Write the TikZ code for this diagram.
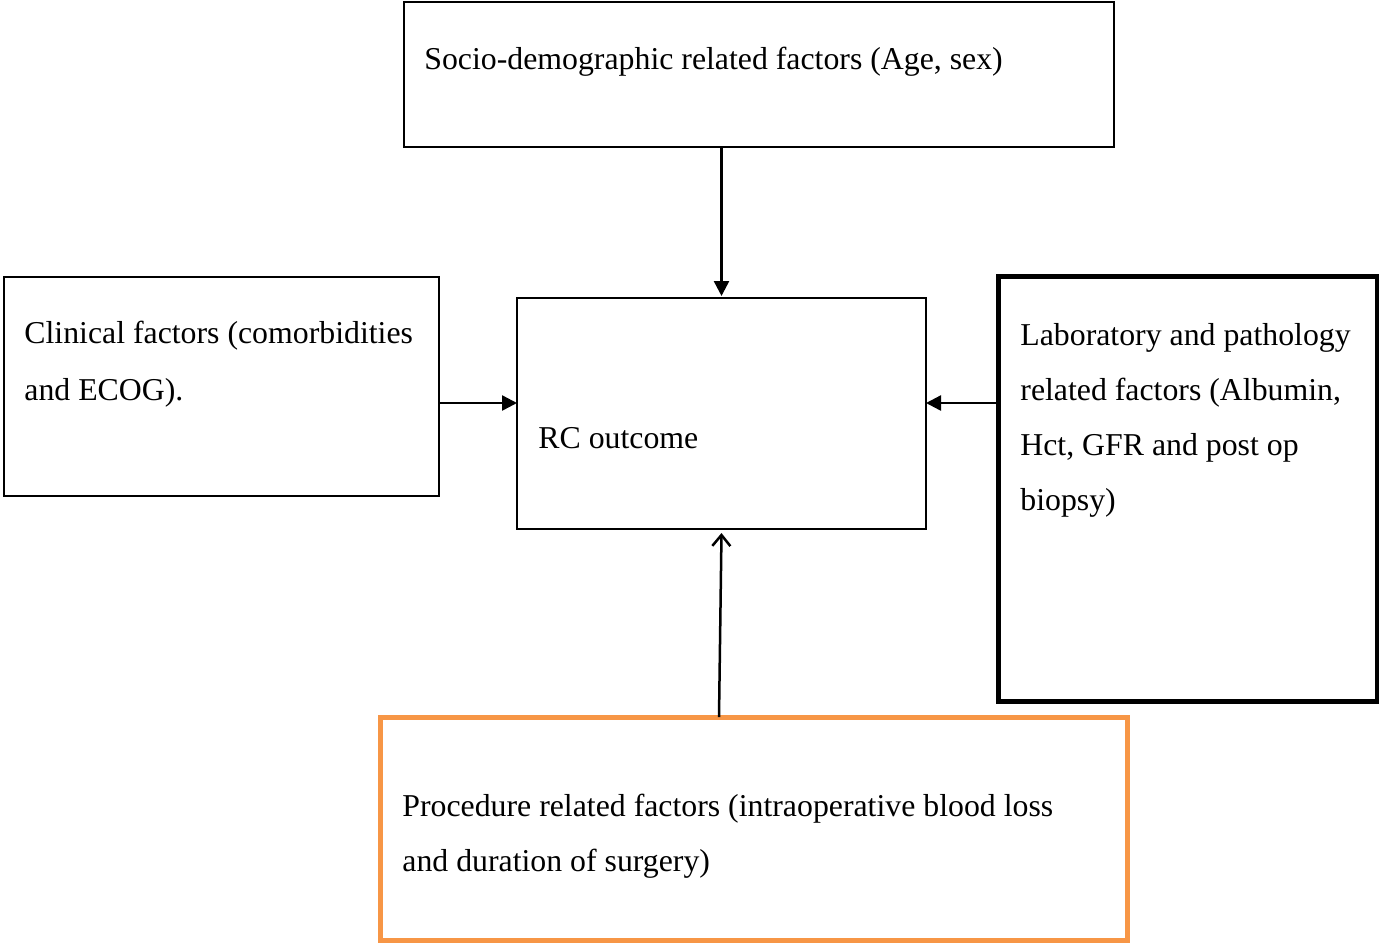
\documentclass[tikz,border=0pt]{standalone}
\usepackage{fontspec}
\setmainfont{Liberation Serif}
\usetikzlibrary{arrows.meta}
\definecolor{procorange}{HTML}{F79646}

\begin{document}
\begin{tikzpicture}[x=0.5pt, y=-0.5pt, box/.style={draw, line width=1pt, inner sep=0pt, outer sep=0pt, anchor=north west}, thickbox/.style={box, line width=2.5pt}, txt/.style={anchor=base west, inner sep=0pt, align=left, font=\fontsize{15.9}{28.5}\selectfont}, n/.style={-{Triangle[length=7.5pt, width=7.5pt]}, line width=1.25pt}, o/.style={-{Straight Barb[length=5.5pt, width=9pt]}, line width=1.25pt}]
        \useasboundingbox (0,0) rectangle (1379,943);
        % boxes
        \node[box, minimum width=355pt, minimum height=72.5pt] (socio) at (404,2) {};
        \node[box, minimum width=217.5pt, minimum height=109.5pt] (clinical) at (4,277) {};
        \node[box, minimum width=204.5pt, minimum height=115.5pt] (outcome) at (517,298) {};
        \node[thickbox, minimum width=189.5pt, minimum height=212.5pt] (lab) at (998,276) {};
        \node[thickbox, draw=procorange, minimum width=373.5pt, minimum height=111.5pt] (procedure) at (380,717) {};
        % texts (anchored at the last baseline)
        \node[txt] (sociotxt) at (424,69) {Socio-demographic related factors (Age, sex)};
        \node[txt] (clinicaltxt) at (24,400) {Clinical factors (comorbidities\\and ECOG).};
        \node[txt] (outcometxt) at (538,448) {RC outcome};
        \node[txt, font=\fontsize{15.9}{27.5}\selectfont] (labtxt) at (1020,510) {Laboratory and pathology\\related factors (Albumin,\\Hct, GFR and post op\\biopsy)};
        \node[txt, font=\fontsize{15.9}{27.5}\selectfont] (proceduretxt) at (402,871) {Procedure related factors (intraoperative blood loss\\and duration of surgery)};
        % edges
        \coordinate (mid) at (0,403);
        \coordinate (pfoot) at (719,717);
        \draw[n] (socio.south -| outcome.north) -- ([yshift=1pt]outcome.north);
        \draw[n] (clinical.east |- mid) -- (outcome.west |- mid);
        \draw[n] (lab.west |- mid) -- (outcome.east |- mid);
        \draw[o] (pfoot) -- ([yshift=-2pt]outcome.south);
    \end{tikzpicture}
\end{document}
